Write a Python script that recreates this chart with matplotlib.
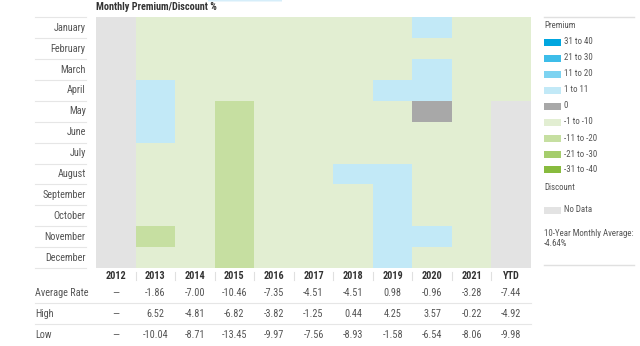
import matplotlib.pyplot as plt
import numpy as np
from matplotlib import font_manager as fm
from matplotlib.colors import ListedColormap
from matplotlib.patches import Rectangle, FancyBboxPatch
from matplotlib.lines import Line2D

# prefer a narrow face if one is around, otherwise shrink the regular one
stretch = 'normal'
family = 'Liberation Sans'
fs = 6.4
have = {(f.name, str(f.stretch)) for f in fm.fontManager.ttflist}
names = {n for n, s in have}
for cand in ['Roboto Condensed', 'Liberation Sans Narrow', 'Open Sans Condensed',
             'Noto Sans Condensed', 'Arial Narrow', 'Nimbus Sans Narrow']:
    if cand in names:
        family, fs = cand, 7.4
        break
else:
    for cand in ['Roboto', 'Noto Sans', 'Open Sans']:
        if (cand, 'condensed') in have:
            family, stretch, fs = cand, 'condensed', 7.4
            break

plt.rcParams['font.family'] = [family, 'DejaVu Sans']
plt.rcParams['font.stretch'] = stretch

months = ['January', 'February', 'March', 'April', 'May', 'June', 'July',
          'August', 'September', 'October', 'November', 'December']
years = ['2012', '2013', '2014', '2015', '2016', '2017', '2018', '2019', '2020', '2021', 'YTD']

# legend buckets, premium first then discount, last one is "no data"
buckets = ['31 to 40', '21 to 30', '11 to 20', '1 to 11', '0',
           '-1 to -10', '-11 to -20', '-21 to -30', '-31 to -40', 'No Data']
bucket_colors = ['#00a6df', '#3dbde9', '#7dd3f1', '#c2e9f7', '#a8a8a8',
                 '#e2eed2', '#c6dfa1', '#a5cd6c', '#88bb3e', '#e3e3e3']

# bucket index for each month (Jan..Dec), one list per year column
col_2012 = [9, 9, 9, 9, 9, 9, 9, 9, 9, 9, 9, 9]
col_2013 = [5, 5, 5, 3, 3, 3, 5, 5, 5, 5, 6, 5]
col_2014 = [5, 5, 5, 5, 5, 5, 5, 5, 5, 5, 5, 5]
col_2015 = [5, 5, 5, 5, 6, 6, 6, 6, 6, 6, 6, 6]
col_2016 = [5, 5, 5, 5, 5, 5, 5, 5, 5, 5, 5, 5]
col_2017 = [5, 5, 5, 5, 5, 5, 5, 5, 5, 5, 5, 5]
col_2018 = [5, 5, 5, 5, 5, 5, 5, 3, 5, 5, 5, 5]
col_2019 = [5, 5, 5, 3, 5, 5, 5, 3, 3, 3, 3, 3]
col_2020 = [3, 5, 3, 3, 4, 5, 5, 5, 5, 5, 3, 5]
col_2021 = [5, 5, 5, 5, 5, 5, 5, 5, 5, 5, 5, 5]
col_ytd = [5, 5, 5, 5, 9, 9, 9, 9, 9, 9, 9, 9]

avg_rate = ['—', '-1.86', '-7.00', '-10.46', '-7.35', '-4.51', '-4.51', '0.98', '-0.96', '-3.28', '-7.44']
high = ['—', '6.52', '-4.81', '-6.82', '-3.82', '-1.25', '0.44', '4.25', '3.57', '-0.22', '-4.92']
low = ['—', '-10.04', '-8.71', '-13.45', '-9.97', '-7.56', '-8.93', '-1.58', '-6.54', '-8.06', '-9.98']
ten_year_avg = '-4.64%'

grid = np.array([col_2012, col_2013, col_2014, col_2015, col_2016, col_2017,
                 col_2018, col_2019, col_2020, col_2021, col_ytd]).T

W, H = 640, 346
fig = plt.figure(figsize=(W / 100, H / 100), dpi=100)

def px(x, y, w, h):
    # pixel box (top-left origin) -> figure fraction
    return [x / W, 1 - (y + h) / H, w / W, h / H]

ax = fig.add_axes(px(96, 17.3, 435, 250.7))
cmap = ListedColormap(bucket_colors)
ax.pcolormesh(np.arange(len(years) + 1), np.arange(len(months) + 1), grid,
              cmap=cmap, vmin=-0.5, vmax=len(buckets) - 0.5)
ax.set_xlim(0, len(years))
ax.set_ylim(len(months), 0)
ax.axis('off')

txt = '#555555'
lab_x = -1.54
# month labels with rules between them
for i, m in enumerate(months):
    ax.text(-0.26, i + 0.5, m, ha='right', va='center', fontsize=fs, color=txt)
for i in range(len(months) + 1):
    ax.add_line(Line2D([lab_x, -0.25], [i, i], color='#e6e6e6', lw=0.8, clip_on=False))

# year header and stats rows
hy = 12.38
for j, yr in enumerate(years):
    ax.text(j + 0.5, hy, yr, ha='center', va='center', fontsize=fs,
            fontweight='bold', color='#333333')
    if j > 0:
        ax.add_line(Line2D([j, j], [hy - 0.18, hy + 0.18], color='#e0e0e0', lw=0.8, clip_on=False))

rows = [('Average Rate', avg_rate, 13.18), ('High', high, 14.2), ('Low', low, 15.2)]
for name, vals, yy in rows:
    ax.text(lab_x, yy, name, ha='left', va='center', fontsize=fs, color=txt)
    for j, v in enumerate(vals):
        ax.text(j + 0.5, yy, v, ha='center', va='center', fontsize=fs, color=txt)
for yy in [13.68, 14.7]:
    ax.add_line(Line2D([lab_x, len(years)], [yy, yy], color='#e6e6e6', lw=0.8, clip_on=False))

fig.text(96 / W, 1 - 7 / H, 'Monthly Premium/Discount %', fontsize=fs,
         fontweight='bold', color='#333333', va='center', ha='left')

# legend panel on the right
lfs = fs * 0.86
lx = 544
fig.add_artist(Line2D([lx / W, 634 / W], [1 - 17 / H, 1 - 17 / H], color='#e0e0e0', lw=1))
fig.add_artist(Line2D([lx / W, 634 / W], [1 - 265 / H, 1 - 265 / H], color='#e0e0e0', lw=1))
fig.text(lx / W, 1 - 26 / H, 'Premium', fontsize=lfs, color=txt, va='center')
for k in range(9):
    y = 42 + 16 * k
    fig.add_artist(Rectangle((lx / W, 1 - (y + 3.5) / H), 17 / W, 7 / H,
                             color=bucket_colors[k], lw=0))
    fig.text(564 / W, 1 - y / H, buckets[k], fontsize=lfs, color=txt, va='center')
fig.text(lx / W, 1 - 187 / H, 'Discount', fontsize=lfs, color=txt, va='center')
fig.add_artist(Rectangle((lx / W, 1 - 213.5 / H), 17 / W, 7 / H,
                         color=bucket_colors[9], lw=0))
fig.text(564 / W, 1 - 210 / H, buckets[9], fontsize=lfs, color=txt, va='center')
fig.text(lx / W, 1 - 233 / H, '10-Year Monthly Average:', fontsize=lfs, color=txt, va='center')
fig.text(lx / W, 1 - 244 / H, ten_year_avg, fontsize=lfs, color=txt, va='center')

# small tab peeking in at the top edge
fig.add_artist(FancyBboxPatch((208 / W, 1 - 1.5 / H), 74 / W, 3 / H,
                              boxstyle='round,pad=0', color='#d6eefa', lw=0))

fig.savefig('out.png', dpi=100)
